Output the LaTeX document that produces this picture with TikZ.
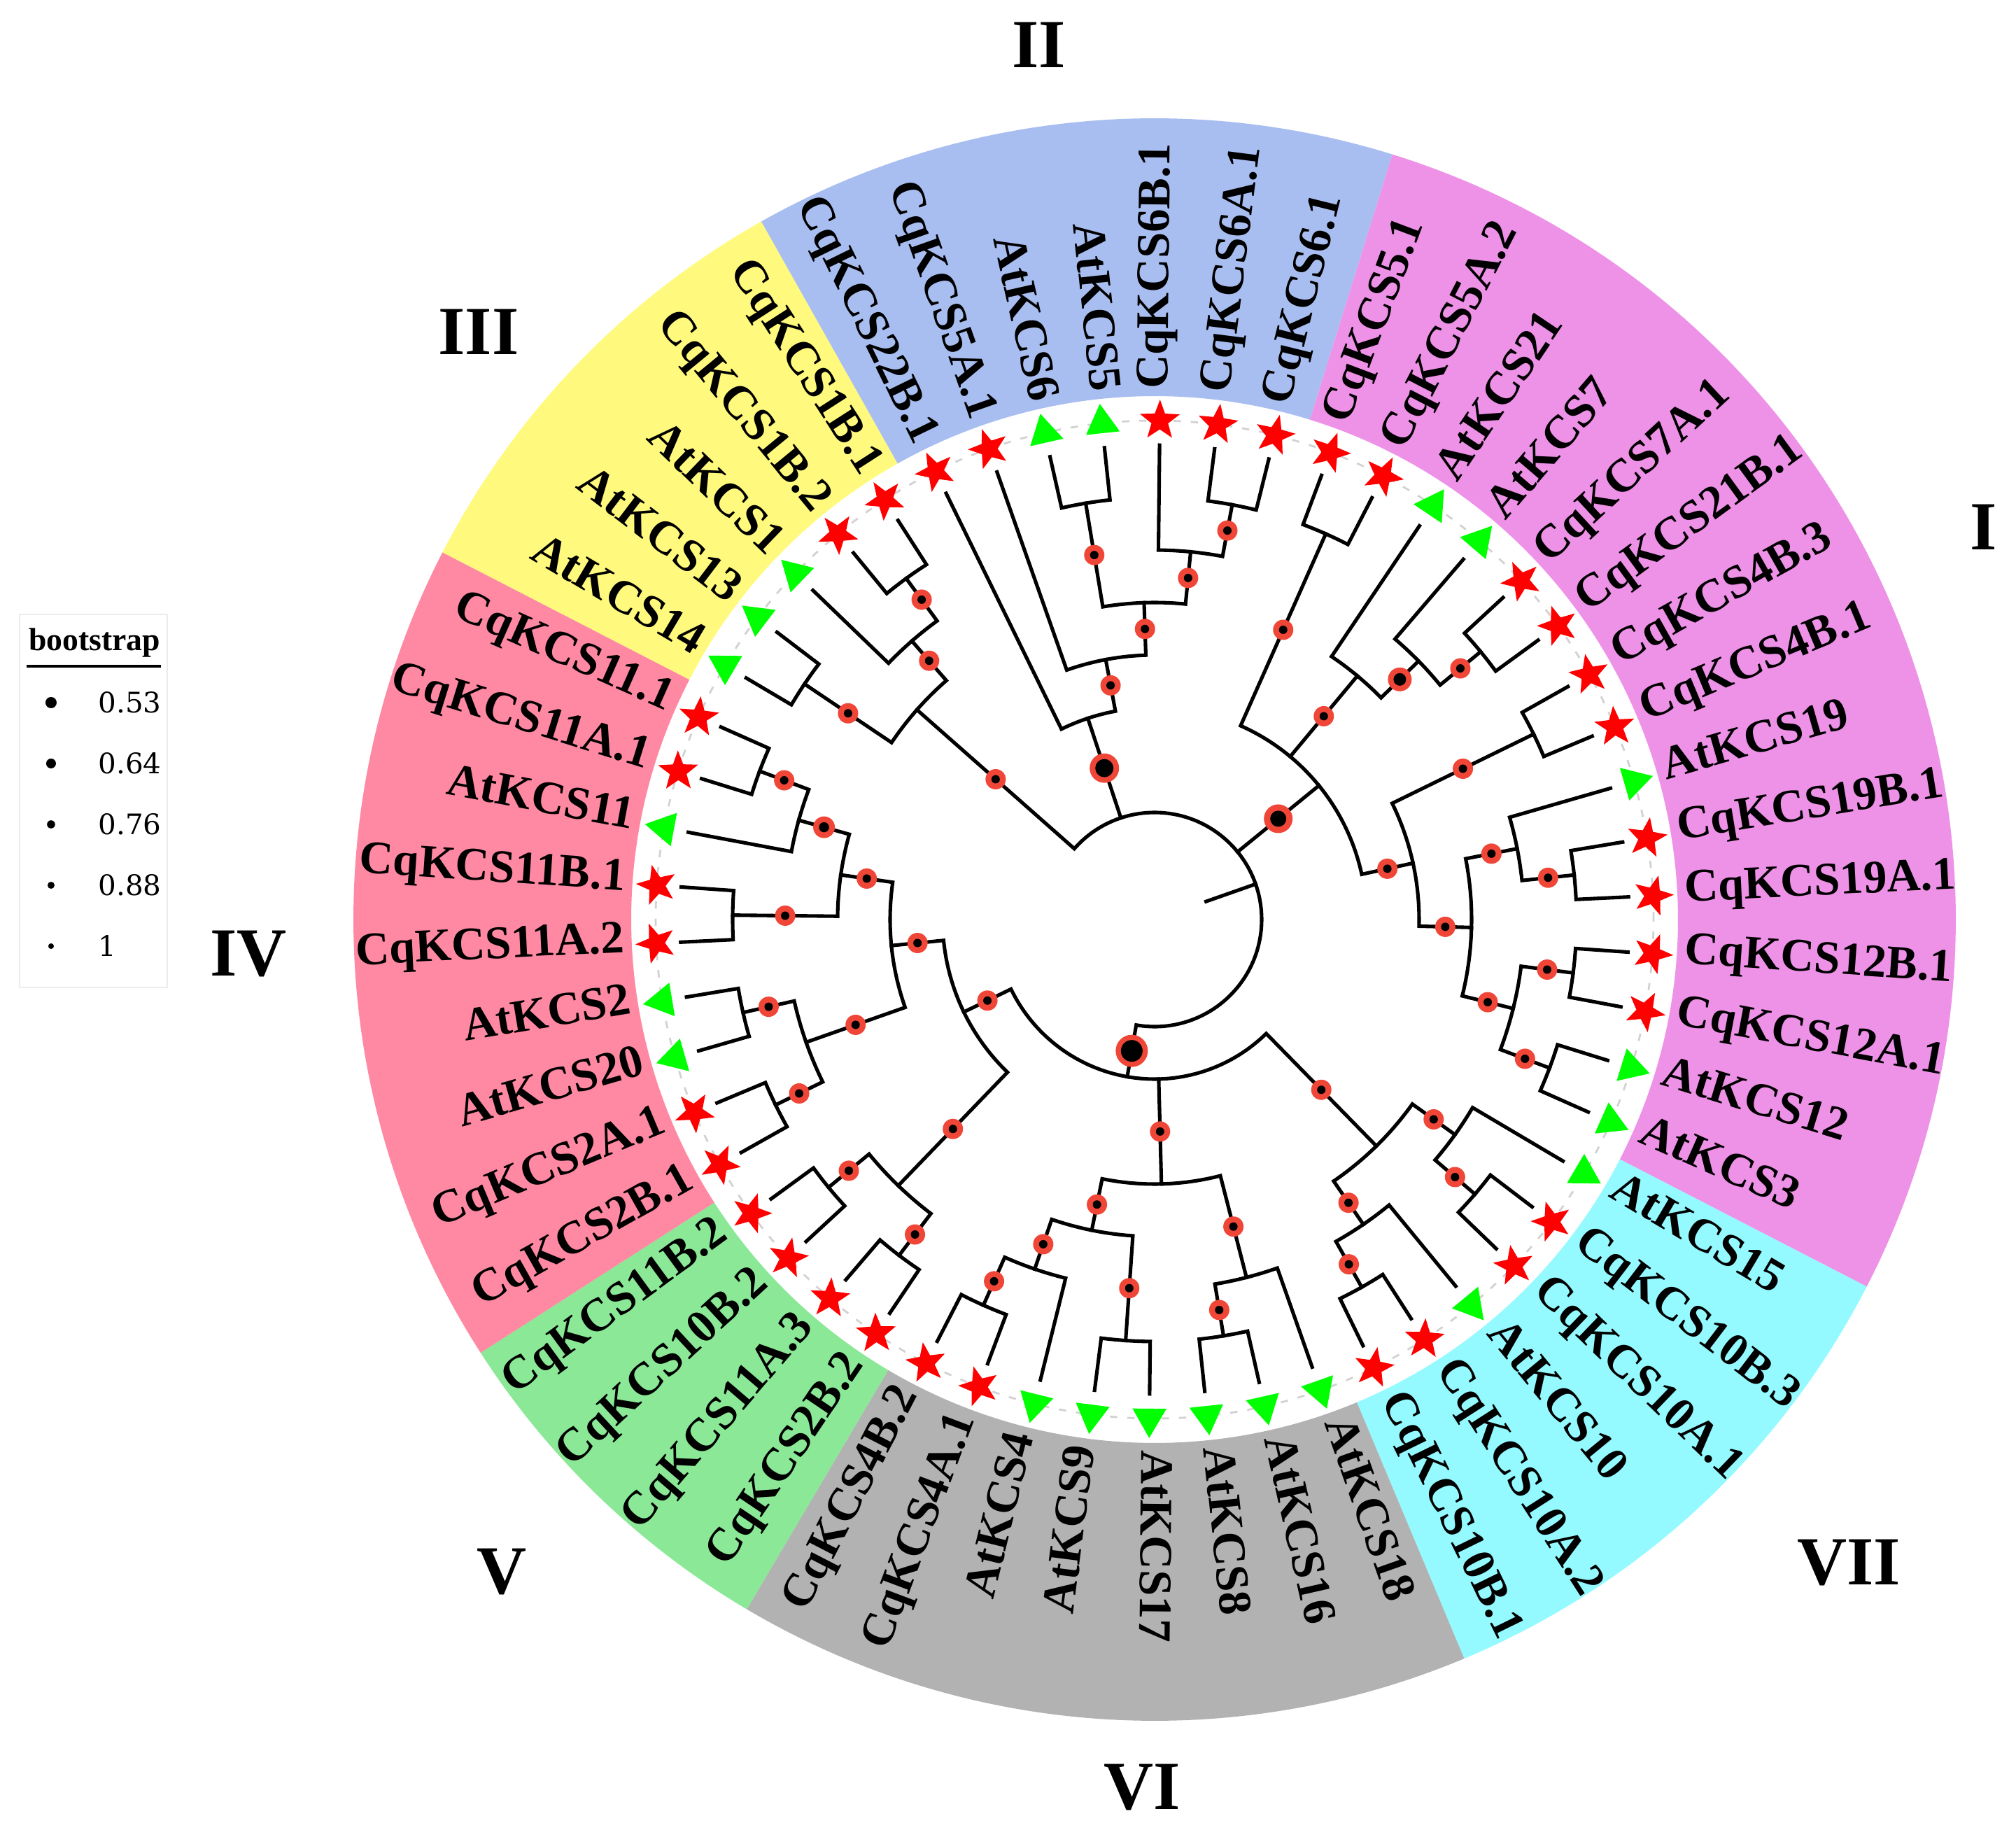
\documentclass[tikz,border=0pt]{standalone}
\usepackage{fontspec}
\setmainfont{Liberation Serif}
\newfontfamily\legfont{DejaVu Serif}
\usetikzlibrary{shapes.geometric}

\definecolor{colI}{RGB}{238,146,232}
\definecolor{colII}{RGB}{169,190,240}
\definecolor{colIII}{RGB}{255,250,125}
\definecolor{colIV}{RGB}{255,137,162}
\definecolor{colV}{RGB}{138,232,150}
\definecolor{colVI}{RGB}{178,178,178}
\definecolor{colVII}{RGB}{148,250,255}
\definecolor{dotred}{RGB}{240,70,55}
\definecolor{mkred}{RGB}{255,0,0}
\definecolor{mkgreen}{RGB}{0,255,0}

\tikzset{
  brline/.style={line width=1.45pt, line join=miter, line cap=rect},
  lab/.style={font=\bfseries\fontsize{19}{19}\selectfont, inner sep=0pt, text height=0.68em, text depth=0.08em},
  trimk/.style={regular polygon, regular polygon sides=3, fill=mkgreen, minimum size=0.56cm, inner sep=0pt, outer sep=0pt},
  starmk/.style={star, star points=5, star point ratio=2.4, fill=mkred, minimum size=0.60cm, inner sep=0pt, outer sep=0pt},
  grp/.style={font=\bfseries\fontsize{28}{28}\selectfont, inner sep=0pt},
}

\newcommand\setPR[3]{\expandafter\xdef\csname tP-#1\endcsname{#2}\expandafter\xdef\csname tR-#1\endcsname{#3}}
\newcommand\getP[1]{\csname tP-#1\endcsname}
\newcommand\getR[1]{\csname tR-#1\endcsname}

\newcommand\stemdot[2]{%
  \ifdim\getR{#1}pt<6.7pt
    \pgfmathsetmacro\dA{149.4-6.666667*\getP{#1}}%
    \pgfmathsetmacro\dR{(\getR{#1}+#2)/2}%
    \fill[dotred] (\dA:\dR) circle (0.145);
    \fill[black] (\dA:\dR) circle (0.06);
  \fi}

\newcommand\bigdot[4]{%
  \pgfmathsetmacro\dA{149.4-6.666667*\getP{#1}}%
  \pgfmathsetmacro\dR{(\getR{#1}+#2)/2}%
  \fill[dotred] (\dA:\dR) circle (#3);
  \fill[black] (\dA:\dR) circle (#4);}

\newcommand\clade[4]{%
  \pgfmathsetmacro\qPa{\getP{#2}}%
  \pgfmathsetmacro\qPb{\getP{#3}}%
  \pgfmathsetmacro\qP{(\qPa+\qPb)/2}%
  \pgfmathsetmacro\qR{0.78+0.75*#4}%
  \setPR{#1}{\qP}{\qR}%
  \pgfmathsetmacro\qAa{149.4-6.666667*\qPa}%
  \pgfmathsetmacro\qAb{149.4-6.666667*\qPb}%
  \pgfmathsetmacro\qAn{149.4-6.666667*\qP}%
  \coordinate (#1) at (\qAn:\qR);
  \coordinate (#2b) at (\qAa:\qR);
  \coordinate (#3b) at (\qAb:\qR);
  \draw[brline] (#2) -- (#2b) arc[start angle=\qAa, end angle=\qAb, radius=\qR] -- (#3);
  \stemdot{#2}{\qR}\stemdot{#3}{\qR}}

\newcommand\cladeiii[5]{%
  \pgfmathsetmacro\qPa{\getP{#2}}%
  \pgfmathsetmacro\qPm{\getP{#3}}%
  \pgfmathsetmacro\qPb{\getP{#4}}%
  \pgfmathsetmacro\qP{(\qPa+\qPb)/2}%
  \pgfmathsetmacro\qR{0.78+0.75*#5}%
  \setPR{#1}{\qP}{\qR}%
  \pgfmathsetmacro\qAa{149.4-6.666667*\qPa}%
  \pgfmathsetmacro\qAm{149.4-6.666667*\qPm}%
  \pgfmathsetmacro\qAb{149.4-6.666667*\qPb}%
  \pgfmathsetmacro\qAn{149.4-6.666667*\qP}%
  \coordinate (#1) at (\qAn:\qR);
  \coordinate (#2b) at (\qAa:\qR);
  \coordinate (#3b) at (\qAm:\qR);
  \coordinate (#4b) at (\qAb:\qR);
  \draw[brline] (#2) -- (#2b) arc[start angle=\qAa, end angle=\qAb, radius=\qR] -- (#4);
  \draw[brline] (#3b) -- (#3);
  \stemdot{#2}{\qR}\stemdot{#3}{\qR}\stemdot{#4}{\qR}}

\newcommand\sector[3]{%
  \pgfmathsetmacro\secA{149.4-6.666667*(#1)}%
  \pgfmathsetmacro\secB{149.4-6.666667*(#2)}%
  \fill[#3] (\secA:7.48) -- (\secA:11.45) arc[start angle=\secA, end angle=\secB, radius=11.45] -- (\secB:7.48) arc[start angle=\secB, end angle=\secA, radius=7.48] -- cycle;}

\begin{document}
\begin{tikzpicture}
\useasboundingbox (-16.50,-13.10) rectangle (12.31,13.14);

% coloured ring
\sector{-0.5}{4.5}{colIII}
\sector{4.5}{11.5}{colII}
\sector{11.5}{26.5}{colI}
\sector{26.5}{32.5}{colVII}
\sector{32.5}{40.5}{colVI}
\sector{40.5}{44.5}{colV}
\sector{44.5}{53.5}{colIV}

% faint dotted tip circle
\draw[gray!35, line width=0.8pt, dash pattern=on 3pt off 4pt] (0,0) circle (7.13);

% leaves, markers, labels
\foreach \p/\lab/\mk in {0/AtKCS14/trimk, 1/AtKCS13/trimk, 2/AtKCS1/trimk, 3/CqKCS1B.2/starmk, 4/CqKCS1B.1/starmk, 5/CqKCS22B.1/starmk, 6/CqKCS5A.1/starmk, 7/AtKCS6/trimk, 8/AtKCS5/trimk, 9/CqKCS6B.1/starmk, 10/CqKCS6A.1/starmk, 11/CqKCS6.1/starmk, 12/CqKCS5.1/starmk, 13/CqKCS5A.2/starmk, 14/AtKCS21/trimk, 15/AtKCS7/trimk, 16/CqKCS7A.1/starmk, 17/CqKCS21B.1/starmk, 18/CqKCS4B.3/starmk, 19/CqKCS4B.1/starmk, 20/AtKCS19/trimk, 21/CqKCS19B.1/starmk, 22/CqKCS19A.1/starmk, 23/CqKCS12B.1/starmk, 24/CqKCS12A.1/starmk, 25/AtKCS12/trimk, 26/AtKCS3/trimk, 27/AtKCS15/trimk, 28/CqKCS10B.3/starmk, 29/CqKCS10A.1/starmk, 30/AtKCS10/trimk, 31/CqKCS10A.2/starmk, 32/CqKCS10B.1/starmk, 33/AtKCS18/trimk, 34/AtKCS16/trimk, 35/AtKCS8/trimk, 36/AtKCS17/trimk, 37/AtKCS9/trimk, 38/AtKCS4/trimk, 39/CqKCS4A.1/starmk, 40/CqKCS4B.2/starmk, 41/CqKCS2B.2/starmk, 42/CqKCS11A.3/starmk, 43/CqKCS10B.2/starmk, 44/CqKCS11B.2/starmk, 45/CqKCS2B.1/starmk, 46/CqKCS2A.1/starmk, 47/AtKCS20/trimk, 48/AtKCS2/trimk, 49/CqKCS11A.2/starmk, 50/CqKCS11B.1/starmk, 51/AtKCS11/trimk, 52/CqKCS11A.1/starmk, 53/CqKCS11.1/starmk}{
  \pgfmathsetmacro\lfang{149.4-6.666667*\p}
  \setPR{L\p}{\p}{6.78}
  \coordinate (L\p) at (\lfang:6.78);
  \node[\mk, rotate=\lfang-90] (m\p) at (\lfang:7.13) {};
  \ifnum\p<9
    \node[lab, anchor=east, rotate=\lfang+180] (t\p) at (\lfang:7.58) {\lab};
  \else\ifnum\p>36
    \node[lab, anchor=east, rotate=\lfang+180] (t\p) at (\lfang:7.58) {\lab};
  \else
    \node[lab, anchor=west, rotate=\lfang] (t\p) at (\lfang:7.58) {\lab};
  \fi\fi
}

% ---- tree (bottom-up) ----
% group III
\clade{g3a}{L0}{L1}{7}
\clade{g3b}{L3}{L4}{7}
\clade{g3c}{L2}{g3b}{6}
\clade{g3}{g3a}{g3c}{5}
% group II
\clade{g2a}{L7}{L8}{7}
\clade{g2b}{L10}{L11}{7}
\clade{g2c}{L9}{g2b}{6}
\clade{g2d}{g2a}{g2c}{5}
\clade{g2e}{L6}{g2d}{4}
\clade{g2}{L5}{g2e}{3}
% group I
\clade{g1a}{L12}{L13}{7}
\clade{g1b}{L16}{L17}{7}
\clade{g1c}{L15}{g1b}{6}
\clade{g1d}{L14}{g1c}{5}
\clade{g1e}{L18}{L19}{7}
\clade{g1f}{L21}{L22}{7}
\clade{g1g}{L20}{g1f}{6}
\clade{g1h}{L23}{L24}{7}
\clade{g1i}{L25}{L26}{7}
\clade{g1j}{g1h}{g1i}{6}
\clade{g1k}{g1g}{g1j}{5}
\clade{g1l}{g1e}{g1k}{4}
\cladeiii{g1}{g1a}{g1d}{g1l}{3}
% group VII
\clade{g7a}{L28}{L29}{7}
\clade{g7b}{L27}{g7a}{6}
\clade{g7c}{L31}{L32}{7}
\clade{g7d}{L30}{g7c}{6}
\clade{g7}{g7b}{g7d}{5}
% group VI
\clade{g6a}{L34}{L35}{7}
\clade{g6b}{L33}{g6a}{6}
\clade{g6c}{L36}{L37}{7}
\clade{g6d}{L39}{L40}{7}
\clade{g6e}{L38}{g6d}{6}
\clade{g6f}{g6c}{g6e}{5}
\clade{g6}{g6b}{g6f}{4}
% group V
\clade{g5b}{L41}{L42}{7}
\clade{g5a}{L43}{L44}{7}
\clade{g5}{g5b}{g5a}{6}
% group IV
\clade{g4a}{L45}{L46}{7}
\clade{g4b}{L47}{L48}{7}
\clade{g4c}{g4a}{g4b}{6}
\clade{g4d}{L49}{L50}{7}
\clade{g4e}{L52}{L53}{7}
\clade{g4f}{L51}{g4e}{6}
\clade{g4g}{g4d}{g4f}{5}
\clade{g4h}{g4c}{g4g}{4}
\clade{g45}{g5}{g4h}{3}
\cladeiii{gDD}{g7}{g6}{g45}{2}

% root
\pgfmathsetmacro\rA{149.4-6.666667*\getP{g3}}
\pgfmathsetmacro\rB{149.4-6.666667*\getP{g2}}
\pgfmathsetmacro\rC{149.4-6.666667*\getP{g1}}
\pgfmathsetmacro\rD{149.4-6.666667*\getP{gDD}}
\pgfmathsetmacro\rN{(\rA+\rD)/2}
\coordinate (root) at (\rN:1.53);
\coordinate (rootedge) at (\rN:0.78);
\coordinate (g3b) at (\rA:1.53);
\coordinate (g2b) at (\rB:1.53);
\coordinate (g1b) at (\rC:1.53);
\coordinate (gDDb) at (\rD:1.53);
\draw[brline] (g3) -- (g3b) arc[start angle=\rA, end angle=\rD, radius=1.53] -- (gDD);
\draw[brline] (g2b) -- (g2);
\draw[brline] (g1b) -- (g1);
\draw[brline] (root) -- (rootedge);
\stemdot{g3}{1.53}
\bigdot{g2}{1.53}{0.21}{0.13}
\bigdot{g1}{1.53}{0.205}{0.115}
\bigdot{gDD}{1.53}{0.23}{0.155}
\bigdot{g1c}{4.53}{0.17}{0.09}
\bigdot{g4f}{4.53}{0.155}{0.072}

% group numerals
\node[grp] (nI) at (11.85,5.61) {I};
\node[grp] (nII) at (-1.65,12.50) {II};
\node[grp] (nIII) at (-9.66,8.40) {III};
\node[grp] (nIV) at (-12.95,-0.49) {IV};
\node[grp] (nV) at (-9.33,-9.32) {V};
\node[grp] (nVI) at (-0.18,-12.40) {VI};
\node[grp] (nVII) at (9.92,-9.19) {VII};

% legend
\draw[black!8, line width=0.6pt] (-16.22,4.36) rectangle (-14.11,-0.97);
\node[font=\bfseries\fontsize{13}{13}\selectfont, inner sep=0pt] (legt) at (-15.15,3.95) {bootstrap};
\coordinate (legl) at (-16.12,3.62);
\coordinate (legr) at (-14.20,3.62);
\draw[line width=0.9pt] (legl) -- (legr);
\foreach \yy/\val/\rr [count=\i] in {3.10/0.53/0.08, 2.23/0.64/0.07, 1.36/0.76/0.058, 0.49/0.88/0.05, -0.38/1/0.04}{
  \fill[black] (-15.77,\yy) circle (\rr);
  \node[anchor=west, font=\legfont\fontsize{11.5}{13}\selectfont, inner sep=0pt] (lv\i) at (-15.10,\yy) {\val};
}
\end{tikzpicture}
\end{document}
